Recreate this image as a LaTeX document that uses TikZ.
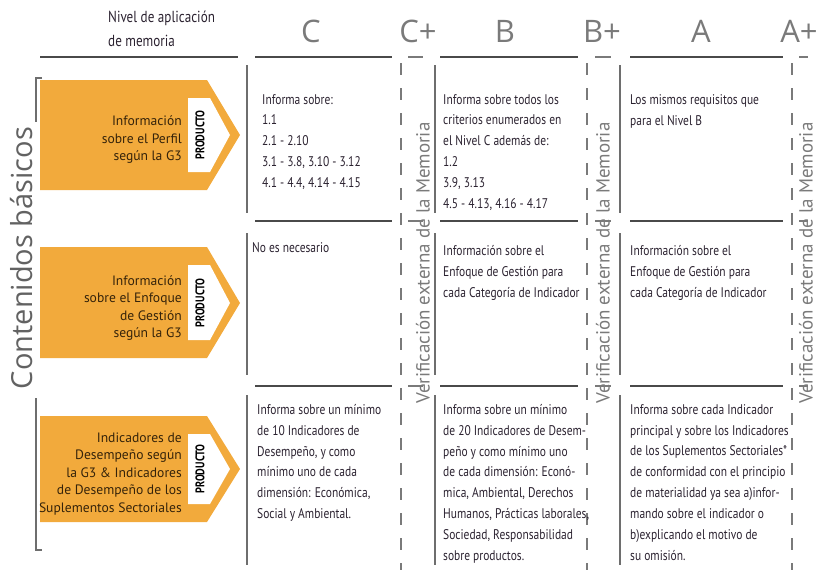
\documentclass[tikz,border=0pt]{standalone}
\usepackage{fontspec}
\setmainfont{PT Sans}
\newfontfamily\condfont[FakeStretch=0.82]{PT Sans}
\newfontfamily\headfont{Open Sans}
\usetikzlibrary{positioning}
\definecolor{prodorange}{HTML}{F2AA3C}
\definecolor{linegrey}{HTML}{4A4A4A}
\definecolor{headgrey}{HTML}{7A7A7A}
\definecolor{celltext}{HTML}{2B2230}
\definecolor{prodbrown}{HTML}{35230A}

\begin{document}
\begin{tikzpicture}[x=1pt,y=-1pt,
  levelhead/.style={font=\headfont\fontsize{31}{31}\selectfont,text=headgrey,inner sep=0pt},
  verif/.style={rotate=90,font=\fontsize{19}{19}\selectfont,text=headgrey,inner sep=0pt},
  cell/.style={anchor=north west,align=left,inner sep=0pt,text=celltext,font=\condfont\fontsize{14}{20.9}\selectfont},
  rowline/.style={linegrey,line width=1.3pt},
  colline/.style={linegrey!80,line width=1.5pt},
  plusline/.style={headgrey,line width=1.1pt,dash pattern=on 12pt off 13pt},
  prodtext/.style={anchor=east,align=right,inner sep=0pt,text=prodbrown,font=\fontsize{13.6}{17.5}\selectfont}]
\useasboundingbox (0,0) rectangle (818,570);

\node[anchor=north west,align=left,inner sep=0pt,text=celltext,
  font=\condfont\fontsize{16}{24}\selectfont] (nivel) at (108,11) {Nivel de aplicación\\de memoria};
\node[levelhead] (hc) at (311,31) {C};
\node[levelhead] (hcp) at (418,31) {C+};
\node[levelhead] (hb) at (505,31) {B};
\node[levelhead] (hbp) at (602,31) {B+};
\node[levelhead] (ha) at (701,31) {A};
\node[levelhead] (hap) at (799,31) {A+};

\draw[rowline] (40,57) -- (238,57);
\foreach \y in {57,221,386} {
  \draw[rowline] (255,\y) -- (392,\y);
  \draw[rowline] (440,\y) -- (578,\y);
  \draw[rowline] (630,\y) -- (783,\y);
  \foreach \xa/\xb in {408/423,595/611,799/808}
    \draw[headgrey,line width=1.1pt] (\xa,\y) -- (\xb,\y);
}
\foreach \x in {247,435,620}
  \foreach \ya/\yb in {65/213,233/375,395/565}
    \draw[colline] (\x,\ya) -- (\x,\yb);
\foreach \x in {401,587,792}
  \draw[plusline] (\x,63) -- (\x,570);

\node[verif] (vc) at (423,263) {Verificación externa de la Memoria};
\node[verif] (vb) at (603,263) {Verificación externa de la Memoria};
\node[verif] (va) at (806,263) {Verificación externa de la Memoria};

\draw[linegrey!80,line width=1.2pt] (42,78) -- (36,78) -- (36,122);
\draw[linegrey!80,line width=1.2pt] (36,398) -- (36,550) -- (42,550);
\node[rotate=90,inner sep=0pt,text=headgrey!80!black,
  font=\headfont\fontsize{29}{29}\selectfont] (basicos) at (22,258) {Contenidos básicos};

\foreach \ya/\ym/\yb/\txt [count=\i] in {
    80/135/190/{Información\\sobre el Perfil\\según la G3},
    247/303/358/{Información\\sobre el Enfoque\\de Gestión\\según la G3},
    416/469/522/{Indicadores de\\Desempeño según\\la G3 \& Indicadores\\de Desempeño de los\\Suplementos Sectoriales}} {
  \fill[prodorange] (40,\ya) -- (207,\ya) -- (240,\ym) -- (207,\yb) -- (40,\yb) -- cycle;
  \fill[white] (188,\ya+18) -- (210,\ya+18) -- (230,\ym) -- (210,\yb-18) -- (188,\yb-18) -- cycle;
  \node[rotate=90,inner sep=0pt,font=\condfont\bfseries\fontsize{12.5}{12.5}\selectfont] (prod\i) at (200,\ym) {PRODUCTO};
  \node[prodtext] (cont\i) at (182,\ym+5) {\txt};
}

\node[cell] (c1) at (262,94) {Informa sobre:\\1.1\\2.1 - 2.10\\3.1 - 3.8, 3.10 - 3.12\\4.1 - 4.4, 4.14 - 4.15};
\node[cell] (b1) at (443,94) {Informa sobre todos los\\criterios enumerados en\\el Nivel C además de:\\1.2\\3.9, 3.13\\4.5 - 4.13, 4.16 - 4.17};
\node[cell] (a1) at (630,94) {Los mismos requisitos que\\para el Nivel B};
\node[cell] (c2) at (252,242) {No es necesario};
\node[cell] (b2) at (443,245) {Información sobre el\\Enfoque de Gestión para\\cada Categoría de Indicador};
\node[cell] (a2) at (630,245) {Información sobre el\\Enfoque de Gestión para\\cada Categoría de Indicador};
\node[cell] (c3) at (257,404) {Informa sobre un mínimo\\de 10 Indicadores de\\Desempeño, y como\\mínimo uno de cada\\dimensión: Económica,\\Social y Ambiental.};
\node[cell] (b3) at (443,404) {Informa sobre un mínimo\\de 20 Indicadores de Desem-\\peño y como mínimo uno\\de cada dimensión: Econó-\\mica, Ambiental, Derechos\\Humanos, Prácticas laborales,\\Sociedad, Responsabilidad\\sobre productos.};
\node[cell] (a3) at (630,404) {Informa sobre cada Indicador\\principal y sobre los Indicadores\\de los Suplementos Sectoriales*\\de conformidad con el principio\\de materialidad ya sea a)infor-\\mando sobre el indicador o\\b)explicando el motivo de\\su omisión.};
\end{tikzpicture}
\end{document}
